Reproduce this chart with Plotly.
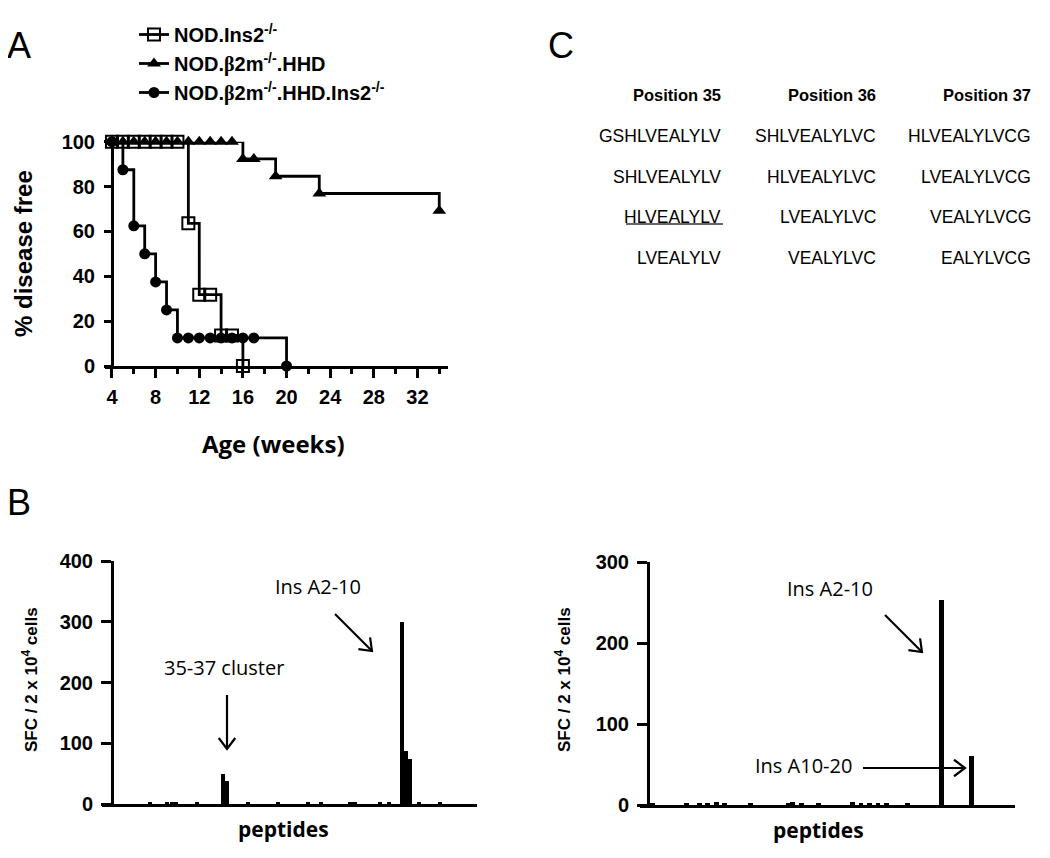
import plotly.graph_objects as go

# ---------------- Data ----------------
# Panel A: Kaplan-Meier style disease-free curves (weeks, % disease free)
ins2_weeks = [4, 5, 6, 7, 8, 9, 10, 11, 12, 13, 14, 15, 16]
ins2_free = [100, 100, 100, 100, 100, 100, 100, 63.6, 31.8, 31.8, 13.6, 13.6, 0]

hhd_weeks = [4, 5, 6, 7, 8, 9, 10, 11, 12, 13, 14, 15, 16, 17, 19, 23, 34]
hhd_free = [100, 100, 100, 100, 100, 100, 100, 100, 100, 100, 100, 100, 92.3, 92.3, 84.6, 76.9, 69.2]

hhd_ins2_weeks = [4, 5, 6, 7, 8, 9, 10, 11, 12, 13, 14, 15, 16, 17, 20]
hhd_ins2_free = [100, 87.5, 62.5, 50, 37.5, 25, 12.5, 12.5, 12.5, 12.5, 12.5, 12.5, 12.5, 12.5, 0]

series_names = [
    "NOD.Ins2<sup>-/-</sup>",
    "NOD.<span style=\"font-family:'Liberation Serif'\">β</span>2m<sup>-/-</sup>.HHD",
    "NOD.<span style=\"font-family:'Liberation Serif'\">β</span>2m<sup>-/-</sup>.HHD.Ins2<sup>-/-</sup>",
]
x_ticks_A = [4, 8, 12, 16, 20, 24, 28, 32]
y_ticks_A = [0, 20, 40, 60, 80, 100]

# Panel B left: peptide index vs SFC / 2x10^4 cells
left_peptide = [9, 13, 14, 15, 20, 26, 27, 32, 39, 46, 49, 56, 57, 63, 65, 68, 69, 70, 72, 77]
left_sfc = [3, 3, 4, 3, 3, 50, 38, 3, 3, 3, 3, 4, 3, 3, 3, 300, 88, 74, 3, 3]

# Panel B right
right_peptide = [1, 9, 12, 14, 16, 18, 24, 33, 34, 36, 40, 48, 50, 52, 54, 56, 61, 69, 76]
right_sfc = [3, 2, 3, 3, 4, 3, 3, 3, 4, 3, 3, 4, 3, 3, 3, 3, 3, 253, 60]

y_ticks_B_left = [0, 100, 200, 300, 400]
y_ticks_B_right = [0, 100, 200, 300]

# Panel C: peptide table
c_headers = ["Position 35", "Position 36", "Position 37"]
c_pos35 = ["GSHLVEALYLV", "SHLVEALYLV", "HLVEALYLV", "LVEALYLV"]
c_pos36 = ["SHLVEALYLVC", "HLVEALYLVC", "LVEALYLVC", "VEALYLVC"]
c_pos37 = ["HLVEALYLVCG", "LVEALYLVCG", "VEALYLVCG", "EALYLVCG"]

# ---------------- Helpers ----------------
W, H = 1050, 858
OFF = 8  # page body margin offset


def X(px):
    return (px - OFF) / W


def Y(py):
    return 1 - (py - OFF) / H


ARIAL = "Liberation Sans, Arial, sans-serif"
CAL = "Open Sans, Lato, sans-serif"

fig = go.Figure()

# ---------------- Panel A traces ----------------
line_style = dict(color="black", width=2.8, shape="hv")
fig.add_trace(go.Scatter(
    x=hhd_ins2_weeks, y=hhd_ins2_free, mode="lines+markers", name=series_names[2],
    line=line_style, marker=dict(symbol="circle", size=11, color="black"),
    cliponaxis=False, legendrank=3, xaxis="x", yaxis="y"))
fig.add_trace(go.Scatter(
    x=hhd_weeks, y=hhd_free, mode="lines+markers", name=series_names[1],
    line=line_style, marker=dict(symbol="triangle-up", size=12, color="black"),
    cliponaxis=False, legendrank=2, xaxis="x", yaxis="y"))
fig.add_trace(go.Scatter(
    x=ins2_weeks, y=ins2_free, mode="lines+markers", name=series_names[0],
    line=line_style,
    marker=dict(symbol="square-open", size=12, color="black", line=dict(width=2, color="black")),
    cliponaxis=False, legendrank=1, xaxis="x", yaxis="y"))

# ---------------- Panel B traces ----------------
fig.add_trace(go.Bar(x=left_peptide, y=left_sfc, width=0.95, marker=dict(color="black", line=dict(width=0)),
                     showlegend=False, xaxis="x2", yaxis="y2"))
fig.add_trace(go.Bar(x=right_peptide, y=right_sfc, width=1.15, marker=dict(color="black", line=dict(width=0)),
                     showlegend=False, xaxis="x3", yaxis="y3"))

tickfont_bold = dict(family=ARIAL, size=20, color="black", weight="bold")

fig.update_layout(
    template="none",
    width=W, height=H,
    autosize=False,
    margin=dict(l=0, r=0, t=0, b=0, pad=0, autoexpand=False),
    paper_bgcolor="white", plot_bgcolor="white",
    bargap=0,
    showlegend=True,
    legend=dict(
        x=X(134), y=Y(15), xanchor="left", yanchor="top",
        font=dict(family=ARIAL, size=20, color="black", weight="bold"),
        bgcolor="rgba(0,0,0,0)", borderwidth=0,
        tracegroupgap=0, itemwidth=30,
    ),
    # Panel A axes
    xaxis=dict(
        domain=[X(105), X(448)], range=[3.36, 34.8], anchor="y", automargin=False,
        showline=True, linecolor="black", linewidth=3, showgrid=False, zeroline=False,
        tickmode="array", tickvals=x_ticks_A, ticks="outside", ticklen=9, tickwidth=3, tickcolor="black",
        tickfont=tickfont_bold, ticklabelstandoff=2,
        minor=dict(dtick=2, tick0=4, ticks="outside", ticklen=5, tickwidth=3, tickcolor="black", showgrid=False),
    ),
    yaxis=dict(
        domain=[Y(366), Y(141.7)], range=[0, 100], anchor="free", position=X(112), automargin=False,
        showline=True, linecolor="black", linewidth=3, showgrid=False, zeroline=False,
        tickmode="array", tickvals=y_ticks_A, ticks="outside", ticklen=7, tickwidth=3, tickcolor="black",
        tickfont=tickfont_bold, ticklabelstandoff=5,
    ),
    # Panel B left axes
    xaxis2=dict(
        domain=[X(102), X(477)], range=[-2.35, 85.7], anchor="y2", automargin=False,
        showline=True, linecolor="black", linewidth=3, showgrid=False, zeroline=False,
        showticklabels=False, ticks="",
    ),
    yaxis2=dict(
        domain=[Y(804), Y(561)], range=[0, 400], anchor="free", position=X(112), automargin=False,
        showline=True, linecolor="black", linewidth=3, showgrid=False, zeroline=False,
        tickmode="array", tickvals=y_ticks_B_left, ticks="outside", ticklen=10, tickwidth=3, tickcolor="black",
        tickfont=tickfont_bold, ticklabelstandoff=4,
    ),
    # Panel B right axes
    xaxis3=dict(
        domain=[X(640), X(1015)], range=[-1.88, 86.15], anchor="y3", automargin=False,
        showline=True, linecolor="black", linewidth=3, showgrid=False, zeroline=False,
        showticklabels=False, ticks="",
    ),
    yaxis3=dict(
        domain=[Y(805), Y(562)], range=[0, 300], anchor="free", position=X(648), automargin=False,
        showline=True, linecolor="black", linewidth=3, showgrid=False, zeroline=False,
        tickmode="array", tickvals=y_ticks_B_right, ticks="outside", ticklen=10, tickwidth=3, tickcolor="black",
        tickfont=tickfont_bold, ticklabelstandoff=4,
    ),
)

ann = []
shapes = []


def text(px, py, s, size, family=ARIAL, bold=False, angle=0, xanchor="center"):
    f = dict(family=family, size=size, color="black")
    if bold:
        f["weight"] = "bold"
    ann.append(dict(x=X(px), y=Y(py), xref="paper", yref="paper", text=s, showarrow=False,
                    font=f, textangle=angle, xanchor=xanchor, yanchor="middle"))


def arrow(hx, hy, tx, ty, head=11):
    # shaft
    shapes.append(dict(type="line", xref="paper", yref="paper",
                       x0=X(tx), y0=Y(ty), x1=X(hx), y1=Y(hy),
                       line=dict(color="black", width=2.2)))
    # open chevron head
    dx, dy = hx - tx, hy - ty
    L = (dx * dx + dy * dy) ** 0.5
    ux, uy = dx / L, dy / L
    px_, py_ = -uy, ux
    b1 = (hx - head * ux + head * 0.75 * px_, hy - head * uy + head * 0.75 * py_)
    b2 = (hx - head * ux - head * 0.75 * px_, hy - head * uy - head * 0.75 * py_)
    path = "M {} {} L {} {} L {} {}".format(X(b1[0]), Y(b1[1]), X(hx), Y(hy), X(b2[0]), Y(b2[1]))
    shapes.append(dict(type="path", xref="paper", yref="paper", path=path,
                       line=dict(color="black", width=2.2)))


# Panel letters
text(19, 45, "A", 36)
text(19, 503, "B", 36)
text(561, 45, "C", 36)

# Panel A titles
text(24, 254, "% disease free", 24, bold=True, angle=-90)
text(273, 443, "Age (weeks)", 24, family=CAL, bold=True)

# Panel B titles
sfc_title = "SFC / 2 x 10<sup>4</sup> cells"
text(30, 680, sfc_title, 17, bold=True, angle=-90)
text(563, 680, sfc_title, 17, bold=True, angle=-90)
text(283, 829, "peptides", 21, family=CAL, bold=True)
text(818, 830, "peptides", 21, family=CAL, bold=True)

# Panel B annotations
text(224, 667, "35-37 cluster", 20, family=CAL)
arrow(227, 749, 227, 695)
text(318, 586, "Ins A2-10", 20, family=CAL)
arrow(372, 651, 335, 614)
text(830, 588, "Ins A2-10", 20, family=CAL)
arrow(922, 652, 885, 615)
text(803, 765, "Ins A10-20", 20, family=CAL)
arrow(965, 768, 863, 768)

# Panel C table
col_right = [723, 878, 1033]
row_y = [136, 177, 217, 258]
for h, xr in zip(c_headers, col_right):
    text(xr, 95, h, 16.5, bold=True, xanchor="right")
for col, xr in zip([c_pos35, c_pos36, c_pos37], col_right):
    for s, yy in zip(col, row_y):
        text(xr, yy, s, 17.5, xanchor="right")

# underline of HLVEALYLV
shapes.append(dict(type="line", xref="paper", yref="paper", x0=X(626), x1=X(723), y0=Y(224), y1=Y(224),
                   line=dict(color="#333", width=1.5)))

fig.update_layout(annotations=ann, shapes=shapes)

fig.write_html("out.html")
